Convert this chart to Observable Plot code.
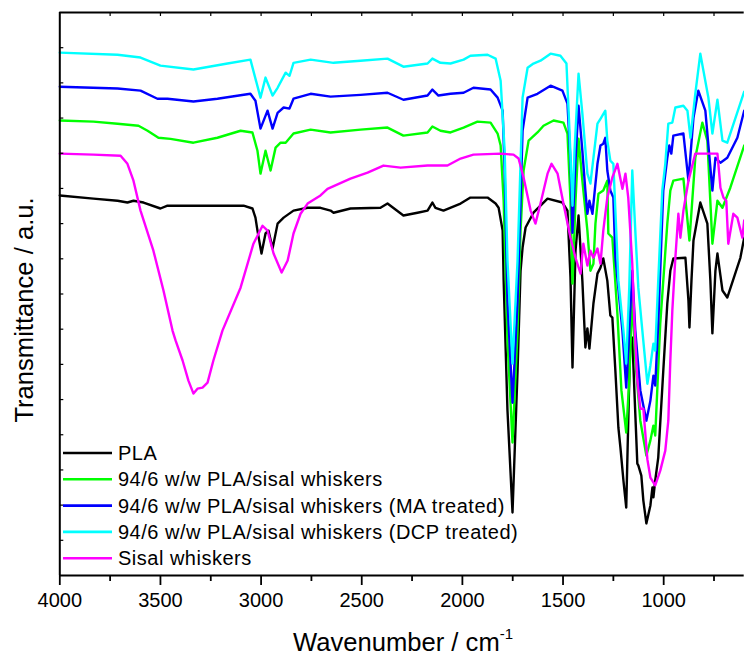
<!DOCTYPE html>
<html>
<head>
<meta charset="utf-8">
<script src="https://cdn.jsdelivr.net/npm/d3@7"></script>
<script src="https://cdn.jsdelivr.net/npm/@observablehq/plot@0.6"></script>
<style>
  html, body { margin: 0; padding: 0; background: white; }
  #chart { width: 744px; height: 657px; }
</style>
</head>
<body>
<div id="chart"></div>
<script>
// Series: [wavenumber (cm^-1), transmittance (a.u.)]
const pla = [[4000,10.80],[3833,10.71],[3713,10.65],[3664,10.60],[3634,10.65],[3584,10.60],[3500,10.43],[3465,10.51],[3336,10.51],[3087,10.51],[3043,10.43],[3028,10.17],[3018,9.80],[2998,9.15],[2978,9.72],[2963,9.80],[2943,9.29],[2918,10.00],[2888,10.17],[2839,10.37],[2769,10.45],[2705,10.45],[2655,10.37],[2640,10.31],[2556,10.43],[2407,10.45],[2372,10.57],[2293,10.23],[2223,10.31],[2173,10.37],[2149,10.60],[2134,10.45],[2094,10.37],[2009,10.57],[1960,10.74],[1875,10.74],[1835,10.57],[1820,10.45],[1800,9.80],[1795,8.38],[1776,4.69],[1751,1.79],[1726,5.82],[1711,8.66],[1701,9.32],[1686,9.89],[1647,10.31],[1577,10.71],[1503,10.60],[1478,10.37],[1463,8.47],[1453,5.91],[1438,9.23],[1423,10.23],[1404,8.38],[1389,6.48],[1379,7.02],[1369,6.45],[1349,7.73],[1329,8.58],[1314,8.75],[1300,9.01],[1280,8.38],[1265,7.39],[1255,7.33],[1240,5.82],[1225,4.20],[1215,3.64],[1200,2.70],[1186,1.93],[1176,4.40],[1166,6.68],[1156,6.76],[1141,4.60],[1131,3.18],[1126,3.13],[1111,2.84],[1101,2.13],[1086,1.48],[1066,1.99],[1056,2.50],[1051,2.22],[1042,2.70],[1027,3.35],[1002,5.82],[982,7.73],[967,8.66],[952,9.01],[892,9.03],[877,7.81],[872,7.05],[862,8.38],[852,9.52],[818,10.60],[783,10.00],[768,8.38],[758,6.88],[743,8.66],[733,9.15],[718,8.52],[708,8.10],[684,7.90],[619,9.03],[600,9.60]];

const pla94 = [[4000,12.93],[3833,12.90],[3713,12.84],[3609,12.78],[3564,12.64],[3510,12.44],[3450,12.41],[3336,12.30],[3217,12.44],[3102,12.64],[3043,12.59],[3018,12.07],[3003,11.42],[2978,12.07],[2953,11.51],[2928,12.16],[2903,12.30],[2878,12.30],[2839,12.56],[2754,12.67],[2655,12.59],[2506,12.67],[2372,12.73],[2293,12.50],[2173,12.59],[2149,12.76],[2109,12.64],[2059,12.59],[1994,12.73],[1925,12.90],[1860,12.87],[1825,12.56],[1810,12.22],[1795,10.65],[1776,6.68],[1751,3.78],[1726,6.96],[1711,9.80],[1696,11.51],[1671,12.36],[1627,12.59],[1597,12.78],[1547,12.93],[1498,12.87],[1478,12.56],[1463,10.65],[1453,8.30],[1438,10.65],[1423,12.41],[1404,11.22],[1379,9.80],[1364,8.66],[1349,8.86],[1339,10.00],[1324,10.85],[1300,10.94],[1280,11.22],[1275,9.72],[1255,9.60],[1230,7.44],[1210,5.26],[1186,4.06],[1171,5.54],[1156,7.95],[1141,6.11],[1116,4.40],[1086,3.41],[1066,3.84],[1051,4.26],[1042,3.98],[1017,7.16],[982,10.00],[967,10.94],[952,11.22],[902,11.28],[872,9.52],[843,11.87],[808,12.87],[783,12.36],[758,9.43],[733,10.65],[708,10.45],[669,11.02],[600,12.22]];

const plaMA = [[4000,13.89],[3713,13.84],[3599,13.78],[3515,13.55],[3465,13.55],[3336,13.47],[3217,13.55],[3053,13.69],[3028,13.49],[3003,12.70],[2968,13.21],[2943,12.70],[2918,13.15],[2888,13.30],[2859,13.27],[2839,13.55],[2754,13.69],[2655,13.61],[2506,13.66],[2372,13.72],[2293,13.52],[2173,13.64],[2149,13.81],[2119,13.64],[2059,13.69],[1994,13.72],[1945,13.86],[1860,13.81],[1825,13.58],[1800,13.21],[1790,11.51],[1776,7.81],[1751,4.91],[1726,7.81],[1711,10.65],[1701,12.64],[1676,13.58],[1627,13.69],[1562,13.92],[1503,13.78],[1478,13.41],[1463,11.79],[1453,9.74],[1438,11.79],[1423,13.35],[1404,12.07],[1389,10.94],[1379,10.28],[1369,10.65],[1354,10.28],[1329,11.70],[1314,12.22],[1300,12.27],[1290,12.44],[1280,11.51],[1265,10.94],[1250,10.74],[1240,9.03],[1205,6.96],[1186,5.34],[1171,6.96],[1156,8.66],[1141,6.96],[1116,5.26],[1086,4.40],[1066,4.97],[1051,5.68],[1042,5.40],[1027,7.16],[1002,10.94],[982,11.87],[972,12.22],[962,11.99],[952,12.50],[902,12.56],[877,11.22],[852,13.01],[828,13.78],[793,13.21],[758,10.94],[743,11.87],[718,11.73],[684,11.87],[634,12.44],[600,13.21]];

const plaDCP = [[4000,14.86],[3713,14.80],[3599,14.72],[3500,14.49],[3336,14.38],[3167,14.55],[3053,14.66],[3003,13.58],[2978,14.15],[2943,13.64],[2918,13.86],[2878,14.29],[2859,14.20],[2849,14.38],[2839,14.57],[2754,14.66],[2640,14.57],[2506,14.63],[2372,14.69],[2293,14.46],[2173,14.55],[2149,14.69],[2109,14.57],[2059,14.55],[1994,14.66],[1960,14.77],[1875,14.80],[1835,14.69],[1810,14.06],[1790,12.07],[1776,8.95],[1751,6.02],[1726,8.95],[1701,13.58],[1676,14.43],[1647,14.55],[1612,14.63],[1562,14.83],[1513,14.77],[1483,14.55],[1468,12.64],[1453,10.51],[1443,12.07],[1423,14.26],[1404,13.13],[1379,11.42],[1364,11.14],[1349,11.87],[1329,12.84],[1314,12.98],[1290,13.21],[1280,12.36],[1265,11.79],[1250,11.70],[1225,8.38],[1200,6.96],[1186,6.02],[1171,8.18],[1156,11.51],[1141,9.80],[1126,8.18],[1106,6.96],[1081,5.45],[1066,5.97],[1051,6.59],[1042,6.39],[1027,8.38],[1007,10.94],[992,11.70],[977,12.84],[957,12.87],[942,13.30],[902,13.35],[882,13.21],[867,12.44],[843,13.69],[818,14.83],[778,13.58],[758,12.56],[733,13.52],[708,12.36],[684,12.30],[600,13.75]];

const sisal = [[4000,11.99],[3833,11.96],[3698,11.93],[3664,11.70],[3634,11.22],[3599,10.37],[3535,9.23],[3485,8.10],[3440,6.96],[3425,6.68],[3390,6.11],[3361,5.54],[3336,5.17],[3316,5.31],[3291,5.34],[3266,5.48],[3237,6.11],[3192,6.96],[3102,8.18],[3038,9.43],[2993,9.94],[2968,9.80],[2938,9.15],[2898,8.61],[2868,8.95],[2839,9.72],[2804,10.28],[2769,10.57],[2705,10.80],[2670,10.99],[2556,11.28],[2471,11.45],[2392,11.65],[2307,11.59],[2173,11.65],[2074,11.65],[2009,11.85],[1945,11.96],[1810,11.99],[1746,11.96],[1721,11.85],[1696,11.31],[1661,10.37],[1637,10.00],[1612,10.57],[1577,11.42],[1557,11.70],[1527,11.42],[1498,10.57],[1463,9.60],[1438,9.03],[1413,8.58],[1399,9.43],[1379,8.81],[1364,9.23],[1349,9.03],[1329,9.29],[1314,8.86],[1300,9.80],[1280,10.74],[1255,11.31],[1230,11.70],[1205,10.99],[1190,11.42],[1176,10.74],[1156,8.86],[1146,7.24],[1131,5.54],[1116,4.74],[1101,4.74],[1081,3.30],[1066,2.78],[1042,2.56],[1017,2.98],[992,3.55],[977,4.40],[967,6.11],[957,7.53],[942,9.03],[927,10.28],[917,9.60],[902,10.37],[877,11.22],[843,11.99],[733,11.99],[718,11.02],[703,10.74],[689,10.65],[679,9.43],[654,10.28],[634,10.17],[609,9.60],[600,10.09]];

const seriesNames = ["PLA", "94/6 w/w PLA/sisal whiskers", "94/6 w/w PLA/sisal whiskers (MA treated)", "94/6 w/w PLA/sisal whiskers (DCP treated)", "Sisal whiskers"];
const seriesColors = ["#000000", "#00ff00", "#0000ff", "#00ffff", "#ff00ff"];
const seriesData = [pla, pla94, plaMA, plaDCP, sisal];

const xMajorTicks = [4000, 3500, 3000, 2500, 2000, 1500, 1000];
const xMinorTicks = [3750, 3250, 2750, 2250, 1750, 1250, 750];
const xTopTicks = [3750, 3500, 3250, 3000, 2750, 2500, 2250, 2000, 1750, 1500, 1250, 1000, 750];
const yTicks = [1, 2, 3, 4, 5, 6, 7, 8, 9, 10, 11, 12, 13, 14, 15];

const FONT = "'Liberation Sans', Arial, Helvetica, sans-serif";

const lineMarks = seriesData.map((arr, i) =>
  Plot.line(arr, {x: d => d[0], y: d => d[1], stroke: seriesColors[i], strokeWidth: 2.4, strokeLinejoin: "round"})
);

const chart = Plot.plot({
  width: 744,
  height: 657,
  marginLeft: 59.3,
  marginRight: 0.3,
  marginTop: 12,
  marginBottom: 82,
  style: {fontFamily: FONT, fontSize: "20px", background: "white", color: "black"},
  x: {domain: [4000, 600]},
  y: {domain: [0, 16]},
  marks: [
    ...lineMarks,
    Plot.ruleY([0], {stroke: "black", strokeWidth: 2}),
    Plot.ruleY([16], {stroke: "black", strokeWidth: 2}),
    Plot.ruleX([4000], {stroke: "black", strokeWidth: 2}),
    Plot.axisX({ticks: xMajorTicks, tickSize: 10, tickPadding: 7, tickFormat: d => String(d), label: null, strokeWidth: 1.8, fontSize: 20}),
    Plot.axisX({ticks: xMinorTicks, tickSize: 6, tickFormat: () => "", label: null, strokeWidth: 1.8}),
    Plot.axisX({anchor: "top", ticks: xTopTicks, tickSize: -3, tickFormat: () => "", label: null, strokeWidth: 1.2}),
    Plot.axisY({ticks: yTicks, tickSize: -4, tickFormat: () => "", label: null, strokeWidth: 1.2})
  ]
});

document.getElementById("chart").appendChild(chart);

const svg = d3.select(chart);

// x axis title
const xt = svg.append("text")
  .attr("x", 293).attr("y", 651)
  .attr("text-anchor", "start")
  .attr("font-family", FONT).attr("font-size", 25.6).attr("fill", "black");
xt.append("tspan").text("Wavenumber / cm");
xt.append("tspan").attr("font-size", 15).attr("dy", -12).text("-1");

// y axis title
svg.append("text")
  .attr("transform", "translate(33,310) rotate(-90)")
  .attr("text-anchor", "middle")
  .attr("font-family", FONT).attr("font-size", 25.6).attr("fill", "black")
  .text("Transmittance / a.u.");

// legend
const lg = svg.append("g").attr("text-anchor", "start");
seriesNames.forEach((name, i) => {
  const cy = 453 + i * 26.3;
  lg.append("line").attr("x1", 63).attr("x2", 112).attr("y1", cy).attr("y2", cy)
    .attr("stroke", seriesColors[i]).attr("stroke-width", 2.6);
  lg.append("text").attr("x", 118).attr("y", cy + 7)
    .attr("text-anchor", "start")
    .attr("font-family", FONT).attr("font-size", 20).attr("letter-spacing", 0.5).attr("fill", "black")
    .text(name);
});
</script>
</body>
</html>
